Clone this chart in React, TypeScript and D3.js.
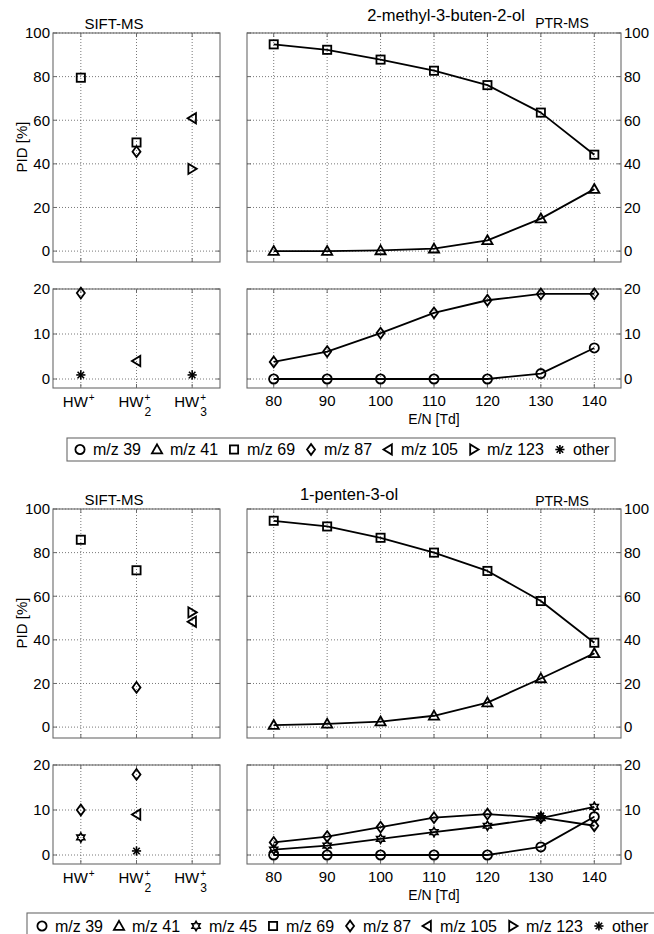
import React, { useEffect, useRef } from "react";
import * as d3 from "d3";

// E/N values of the PTR-MS runs and the SIFT-MS precursor ions
const enValues = [80, 90, 100, 110, 120, 130, 140];
const hwSubs = ["", "2", "3"];
const pidTicksHigh = [0, 20, 40, 60, 80, 100];
const pidTicksLow = [0, 10, 20];

// ion names used in the legends
const ionLabels: Record<string, string> = {
  mz39: "m/z 39",
  mz41: "m/z 41",
  mz45: "m/z 45",
  mz69: "m/z 69",
  mz87: "m/z 87",
  mz105: "m/z 105",
  mz123: "m/z 123",
  other: "other",
};
const legendIonsA = ["mz39", "mz41", "mz69", "mz87", "mz105", "mz123", "other"];
const legendIonsB = ["mz39", "mz41", "mz45", "mz69", "mz87", "mz105", "mz123", "other"];

// 2-methyl-3-buten-2-ol, SIFT-MS (HW+, HW2+, HW3+)
const mbSiftMz69 = [79.5, 49.8, null];
const mbSiftMz87 = [null, 45.6, null];
const mbSiftMz105 = [null, null, 60.9];
const mbSiftMz123 = [null, null, 37.7];
const mbSiftLowMz87 = [19.1, null, null];
const mbSiftLowMz105 = [null, 4, null];
const mbSiftLowOther = [0.9, null, 0.9];
// 2-methyl-3-buten-2-ol, PTR-MS
const mbPtrMz69 = [94.8, 92.3, 87.8, 82.7, 76.1, 63.5, 44.2];
const mbPtrMz41 = [0, 0, 0.3, 1.1, 4.9, 14.9, 28.4];
const mbPtrMz87 = [3.8, 6.1, 10.2, 14.7, 17.5, 18.9, 18.9];
const mbPtrMz39 = [0, 0, 0, 0, 0, 1.2, 6.9];

// 1-penten-3-ol, SIFT-MS
const ptSiftMz69 = [85.9, 71.9, null];
const ptSiftMz87 = [null, 18.2, null];
const ptSiftMz105 = [null, null, 48.3];
const ptSiftMz123 = [null, null, 52.6];
const ptSiftLowMz87 = [10, 17.9, null];
const ptSiftLowMz45 = [3.9, null, null];
const ptSiftLowMz105 = [null, 9, null];
const ptSiftLowOther = [null, 0.9, null];
// 1-penten-3-ol, PTR-MS
const ptPtrMz69 = [94.6, 92, 86.8, 80, 71.6, 57.8, 38.7];
const ptPtrMz41 = [0.9, 1.5, 2.5, 5.2, 11.2, 22.3, 33.8];
const ptPtrMz87 = [2.8, 4.1, 6.2, 8.3, 9.1, 8.3, 6.5];
const ptPtrMz45 = [1.2, 2.1, 3.6, 5.1, 6.5, 8.2, 10.7];
const ptPtrMz39 = [0, 0, 0, 0, 0, 1.8, 8.5];
const ptPtrOther = [null, null, null, null, null, 8.7, null];

type Series = { ion: string; values: (number | null)[] };

const FONT = "'Liberation Sans', Arial, Helvetica, sans-serif";
const FRAME = "#6a6a6a";

function drawMarker(g: any, ion: string, x: number, y: number) {
  const m = g.append("g").attr("transform", `translate(${x},${y})`)
    .attr("fill", "none").attr("stroke", "#000").attr("stroke-width", 1.8);
  const r = 4.6;
  if (ion === "mz39") {
    m.append("circle").attr("r", r);
  } else if (ion === "mz41") {
    m.append("path").attr("d", `M0,${-r - 0.5}L${r + 0.5},${r - 0.8}L${-r - 0.5},${r - 0.8}Z`);
  } else if (ion === "mz69") {
    m.append("rect").attr("x", -r + 0.5).attr("y", -r + 0.5).attr("width", 2 * r - 1).attr("height", 2 * r - 1);
  } else if (ion === "mz87") {
    m.append("path").attr("d", `M0,${-r - 0.8}L${r - 0.6},0L0,${r + 0.8}L${-r + 0.6},0Z`);
  } else if (ion === "mz105") {
    m.append("path").attr("d", `M${-r},0L${r - 0.8},${-r - 0.5}L${r - 0.8},${r + 0.5}Z`);
  } else if (ion === "mz123") {
    m.append("path").attr("d", `M${r},0L${-r + 0.8},${-r - 0.5}L${-r + 0.8},${r + 0.5}Z`);
  } else if (ion === "mz45") {
    const pts = d3.range(12).map((i) => {
      const a = -Math.PI / 2 + (i * Math.PI) / 6;
      const rr = i % 2 === 0 ? r : r * 0.58;
      return [rr * Math.cos(a), rr * Math.sin(a)] as [number, number];
    });
    m.append("path").attr("d", d3.line()(pts) + "Z").attr("stroke-width", 1.6);
  } else {
    [0, 45, 90, 135].forEach((a) => {
      const t = (a * Math.PI) / 180;
      m.append("line")
        .attr("x1", -r * Math.cos(t)).attr("y1", -r * Math.sin(t))
        .attr("x2", r * Math.cos(t)).attr("y2", r * Math.sin(t))
        .attr("stroke-width", 1.6);
    });
  }
}

function drawPanel(svg: any, opts: {
  x: any; y: any; xTicks: number[]; yTicks: number[];
  side: "left" | "right"; lines: boolean; series: Series[]; xs: number[];
}) {
  const { x, y, xTicks, yTicks, side, lines, series, xs } = opts;
  const [x0, x1] = x.range();
  const [y1, y0] = y.range();
  const g = svg.append("g");

  g.append("rect").attr("x", x0).attr("y", y0).attr("width", x1 - x0).attr("height", y1 - y0)
    .attr("fill", "#fff");

  // grid
  g.append("g").selectAll("line").data(xTicks).join("line")
    .attr("x1", (d: number) => x(d)).attr("x2", (d: number) => x(d))
    .attr("y1", y0).attr("y2", y1)
    .attr("stroke", "#555").attr("stroke-width", 0.8).attr("stroke-dasharray", "1,2");
  g.append("g").selectAll("line").data(yTicks).join("line")
    .attr("x1", x0).attr("x2", x1)
    .attr("y1", (d: number) => y(d)).attr("y2", (d: number) => y(d))
    .attr("stroke", "#555").attr("stroke-width", 0.8).attr("stroke-dasharray", "1,2");

  // inward ticks on all sides
  const tk = 4;
  const ticks = g.append("g").attr("stroke", FRAME).attr("stroke-width", 1);
  xTicks.forEach((d) => {
    ticks.append("line").attr("x1", x(d)).attr("x2", x(d)).attr("y1", y1).attr("y2", y1 - tk);
    ticks.append("line").attr("x1", x(d)).attr("x2", x(d)).attr("y1", y0).attr("y2", y0 + tk);
  });
  yTicks.forEach((d) => {
    ticks.append("line").attr("x1", x0).attr("x2", x0 + tk).attr("y1", y(d)).attr("y2", y(d));
    ticks.append("line").attr("x1", x1).attr("x2", x1 - tk).attr("y1", y(d)).attr("y2", y(d));
  });

  g.append("rect").attr("x", x0).attr("y", y0).attr("width", x1 - x0).attr("height", y1 - y0)
    .attr("fill", "none").attr("stroke", FRAME).attr("stroke-width", 1.1);

  // y tick labels
  g.append("g").selectAll("text").data(yTicks).join("text")
    .attr("x", side === "left" ? x0 - 3 : x1 + 3)
    .attr("y", (d: number) => y(d))
    .attr("dy", "0.36em")
    .attr("text-anchor", side === "left" ? "end" : "start")
    .attr("font-size", 15)
    .text((d: number) => d);

  // data
  series.forEach((s) => {
    const pts = s.values.map((v, i) => ({ x: xs[i], v }));
    if (lines) {
      const line = d3.line<{ x: number; v: number | null }>()
        .defined((d) => d.v !== null)
        .x((d) => x(d.x)).y((d) => y(d.v as number));
      g.append("path").attr("d", line(pts)).attr("fill", "none")
        .attr("stroke", "#000").attr("stroke-width", 1.8).attr("stroke-linejoin", "round");
    }
    pts.filter((p) => p.v !== null).forEach((p) => drawMarker(g, s.ion, x(p.x), y(p.v as number)));
  });
  return g;
}

function drawLegend(svg: any, ions: string[], bx: number, by: number, bw: number, bh: number, start: number) {
  const g = svg.append("g");
  g.append("rect").attr("x", bx).attr("y", by).attr("width", bw).attr("height", bh)
    .attr("fill", "#fff").attr("stroke", FRAME).attr("stroke-width", 1.1);
  let cursor = start;
  const cy = by + bh / 2;
  ions.forEach((ion) => {
    drawMarker(g, ion, cursor, cy);
    const t = g.append("text").attr("x", cursor + 13).attr("y", cy).attr("dy", "0.36em")
      .attr("font-size", 16).text(ionLabels[ion]);
    const w = (t.node() as SVGTextElement).getComputedTextLength();
    cursor = cursor + 13 + w + 16;
  });
}

function drawCompound(svg: any, off: number, c: {
  title: string; titleX: number; titleY: number; ptrY: number;
  siftHigh: Series[]; siftLow: Series[]; ptrHigh: Series[]; ptrLow: Series[];
  legend: string[]; legendBox: [number, number, number, number, number];
}) {
  const hw = [1, 2, 3];
  const xSift = d3.scaleLinear().domain([0.5, 3.5]).range([53, 220]);
  const xPtr = d3.scaleLinear().domain([75, 145]).range([247, 621]);
  const yHigh = d3.scaleLinear().domain([-5, 100]).range([262 + off, 33 + off]);
  const yLow = d3.scaleLinear().domain([-2, 20]).range([388 + off, 289 + off]);

  drawPanel(svg, { x: xSift, y: yHigh, xTicks: hw, yTicks: pidTicksHigh, side: "left", lines: false, series: c.siftHigh, xs: hw });
  drawPanel(svg, { x: xPtr, y: yHigh, xTicks: enValues, yTicks: pidTicksHigh, side: "right", lines: true, series: c.ptrHigh, xs: enValues });
  drawPanel(svg, { x: xSift, y: yLow, xTicks: hw, yTicks: pidTicksLow, side: "left", lines: false, series: c.siftLow, xs: hw });
  drawPanel(svg, { x: xPtr, y: yLow, xTicks: enValues, yTicks: pidTicksLow, side: "right", lines: true, series: c.ptrLow, xs: enValues });

  // SIFT-MS x labels: HW+, HW2+, HW3+
  hw.forEach((h, i) => {
    const cx = xSift(h);
    const base = 407 + off;
    svg.append("text").attr("x", cx + 7).attr("y", base).attr("text-anchor", "end")
      .attr("font-size", 15).text("HW");
    svg.append("text").attr("x", cx + 8).attr("y", base - 6).attr("font-size", 10).text("+");
    if (hwSubs[i]) {
      svg.append("text").attr("x", cx + 8).attr("y", base + 9).attr("font-size", 12).text(hwSubs[i]);
    }
  });

  // PTR-MS x labels
  svg.append("g").selectAll("text").data(enValues).join("text")
    .attr("x", (d: number) => xPtr(d)).attr("y", 406 + off)
    .attr("text-anchor", "middle").attr("font-size", 15).text((d: number) => d);
  svg.append("text").attr("x", 434).attr("y", 424 + off).attr("text-anchor", "middle")
    .attr("font-size", 14).text("E/N [Td]");

  svg.append("text").attr("x", 22).attr("y", 147 + off).attr("text-anchor", "middle")
    .attr("transform", `rotate(-90,22,${147 + off})`).attr("dy", "0.36em")
    .attr("font-size", 15).text("PID [%]");

  svg.append("text").attr("x", 114).attr("y", 29 + off).attr("text-anchor", "middle")
    .attr("font-size", 15).text("SIFT-MS");
  svg.append("text").attr("x", c.titleX).attr("y", c.titleY).attr("text-anchor", "middle")
    .attr("font-size", 16.5).text(c.title);
  svg.append("text").attr("x", 562).attr("y", c.ptrY).attr("text-anchor", "middle")
    .attr("font-size", 14).text("PTR-MS");

  const [bx, by, bw, bh, st] = c.legendBox;
  drawLegend(svg, c.legend, bx, by, bw, bh, st);
}

export default function App() {
  const ref = useRef<SVGSVGElement>(null);

  useEffect(() => {
    const svg = d3.select(ref.current);
    svg.selectAll("*").remove();
    svg.attr("font-family", FONT);

    drawCompound(svg, 0, {
      title: "2-methyl-3-buten-2-ol", titleX: 446, titleY: 21, ptrY: 28,
      siftHigh: [
        { ion: "mz69", values: mbSiftMz69 },
        { ion: "mz87", values: mbSiftMz87 },
        { ion: "mz105", values: mbSiftMz105 },
        { ion: "mz123", values: mbSiftMz123 },
      ],
      siftLow: [
        { ion: "mz87", values: mbSiftLowMz87 },
        { ion: "mz105", values: mbSiftLowMz105 },
        { ion: "other", values: mbSiftLowOther },
      ],
      ptrHigh: [
        { ion: "mz69", values: mbPtrMz69 },
        { ion: "mz41", values: mbPtrMz41 },
      ],
      ptrLow: [
        { ion: "mz87", values: mbPtrMz87 },
        { ion: "mz39", values: mbPtrMz39 },
      ],
      legend: legendIonsA,
      legendBox: [67, 438, 548, 23, 80],
    });

    drawCompound(svg, 476, {
      title: "1-penten-3-ol", titleX: 349, titleY: 500, ptrY: 506,
      siftHigh: [
        { ion: "mz69", values: ptSiftMz69 },
        { ion: "mz87", values: ptSiftMz87 },
        { ion: "mz105", values: ptSiftMz105 },
        { ion: "mz123", values: ptSiftMz123 },
      ],
      siftLow: [
        { ion: "mz87", values: ptSiftLowMz87 },
        { ion: "mz45", values: ptSiftLowMz45 },
        { ion: "mz105", values: ptSiftLowMz105 },
        { ion: "other", values: ptSiftLowOther },
      ],
      ptrHigh: [
        { ion: "mz69", values: ptPtrMz69 },
        { ion: "mz41", values: ptPtrMz41 },
      ],
      ptrLow: [
        { ion: "mz87", values: ptPtrMz87 },
        { ion: "mz45", values: ptPtrMz45 },
        { ion: "mz39", values: ptPtrMz39 },
        { ion: "other", values: ptPtrOther },
      ],
      legend: legendIonsB,
      legendBox: [27, 913, 640, 26, 42],
    });
  }, []);

  return (
    <svg
      ref={ref}
      width={654}
      height={934}
      viewBox="0 0 654 934"
      style={{ position: "absolute", left: 0, top: 0, background: "#fff", display: "block" }}
    />
  );
}
